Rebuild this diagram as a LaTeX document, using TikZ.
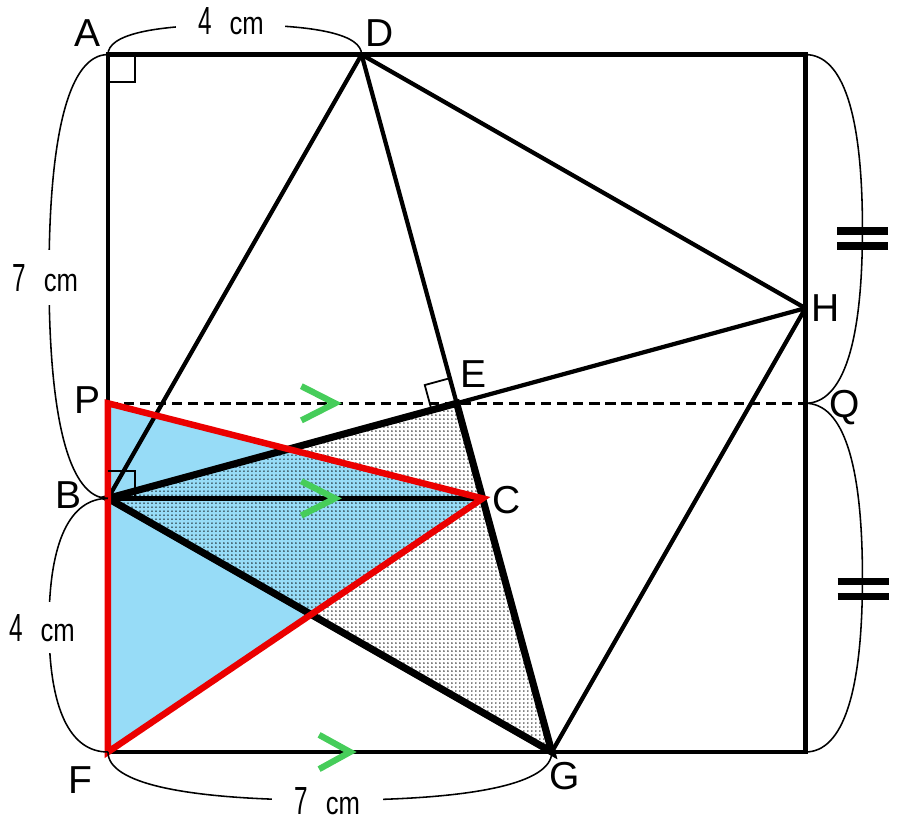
\documentclass[tikz,border=0pt]{standalone}
\usepackage{fontspec}
\setmainfont{Liberation Sans}
\usetikzlibrary{calc,patterns.meta}
\definecolor{skyfill}{RGB}{151,220,247}
\definecolor{redline}{RGB}{235,0,0}
\definecolor{greenmark}{RGB}{70,205,90}
\tikzset{
  frameline/.style={line width=1.9pt, line join=miter},
  dashline/.style={line width=1.6pt, dash pattern=on 4.6pt off 2.6pt},
  thickline/.style={line width=3.2pt, line join=miter},
  redtri/.style={draw=redline, line width=2.9pt, line join=miter},
  bracecurve/.style={line width=0.7pt},
  rightmark/.style={line width=0.8pt},
  chevron/.style={draw=greenmark, line width=2.8pt, line join=miter},
  eqbar/.style={line width=3.4pt},
  ptlabel/.style={font=\fontsize{17.5}{18}\selectfont, inner sep=0pt},
  measlabel/.style={fill=white, inner sep=0pt},
}
\newcommand{\measure}[1]{\scalebox{0.62}[1]{\fontsize{17.6}{18}\selectfont #1}\hspace{8pt}\scalebox{0.8}[1]{\fontsize{14.4}{15}\selectfont cm}}
\begin{document}
\begin{tikzpicture}
\useasboundingbox (-1.703,-1.183) rectangle (12.524,11.861);
% points
\coordinate (F) at (0,0);
\coordinate (G) at (7,0);
\coordinate (R) at (11,0);
\coordinate (T) at (11,11);
\coordinate (A) at (0,11);
\coordinate (D) at (4,11);
\coordinate (B) at (0,4);
\coordinate (P) at (0,5.5);
\coordinate (Q) at (11,5.5);
\coordinate (E) at (5.5,5.5);
\coordinate (H) at (11,7);
\coordinate (C) at (5.90909,4);
% fills
\fill[skyfill] (P) -- (F) -- (C) -- cycle;
\fill[pattern={Dots[distance=1.795pt,radius=0.34pt]}] (B) -- (E) -- (G) -- cycle;
% dashed
\draw[dashline] (P) -- (Q);
% lines
\draw[frameline] (A) -- (T) -- (R) -- (F) -- cycle;
\draw[frameline] (D) -- (B);
\draw[frameline] (D) -- (E);
\draw[frameline] (D) -- (H);
\draw[frameline] (E) -- (H);
\draw[frameline] (H) -- (G);
\draw[frameline] (B) -- (C);
\draw[thickline] (B) -- (E) -- (G) -- cycle;
\draw[redtri] (P) -- (F) -- (C) -- cycle;
% right angle marks
\draw[rightmark] ($(A)+(0.43,0)$) -- ($(A)+(0.43,-0.43)$) -- ($(A)+(0,-0.43)$);
\draw[rightmark] ($(B)+(0,0.43)$) -- ($(B)+(0.43,0.43)$) -- ($(B)+(0.43,0)$);
\coordinate (ed) at ($(E)!0.41cm!(D)$);
\coordinate (eb) at ($(E)!0.41cm!(B)$);
\draw[rightmark] (ed) -- ($(ed)+(eb)-(E)$) -- (eb);
% braces
\draw[bracecurve] (A) .. controls (0,11.31) and (0.68,11.47) .. (2,11.47)
  .. controls (3.32,11.47) and (4,11.31) .. (D);
\draw[bracecurve] (A) .. controls (-0.6,11) and (-0.93,9.8) .. (-0.93,7.5)
  .. controls (-0.93,5.2) and (-0.6,4) .. (B);
\draw[bracecurve] (B) .. controls (-0.6,4) and (-0.93,3.32) .. (-0.93,2)
  .. controls (-0.93,0.68) and (-0.6,0) .. (F);
\draw[bracecurve] (F) .. controls (0,-0.49) and (1.19,-0.76) .. (3.5,-0.76)
  .. controls (5.81,-0.76) and (7,-0.49) .. (G);
\draw[bracecurve] (T) .. controls (11.59,11) and (11.9,10.07) .. (11.9,8.25)
  .. controls (11.9,6.43) and (11.59,5.5) .. (Q);
\draw[bracecurve] (Q) .. controls (11.59,5.5) and (11.9,4.57) .. (11.9,2.75)
  .. controls (11.9,0.93) and (11.59,0) .. (R);
% equal marks
\draw[eqbar] (11.5,8.22) -- (12.3,8.22);
\draw[eqbar] (11.5,7.98) -- (12.3,7.98);
\draw[eqbar] (11.51,2.69) -- (12.32,2.69);
\draw[eqbar] (11.51,2.45) -- (12.32,2.45);
% measurement labels
\node[measlabel, minimum width=1.72cm, minimum height=0.55cm] (mAD) at (1.94,11.52) {\measure{4}};
\node[measlabel, minimum width=1.2cm, minimum height=0.87cm] (mAB) at (-0.99,7.48) {\measure{7}};
\node[measlabel, minimum width=1.2cm, minimum height=0.8cm] (mBF) at (-1.04,1.96) {\measure{4}};
\node[measlabel, minimum width=1.74cm, minimum height=0.55cm] (mFG) at (3.46,-0.77) {\measure{7}};
% chevrons
\draw[chevron] (3.05,5.77) -- (3.58,5.5) -- (3.05,5.23);
\draw[chevron] (3.05,4.27) -- (3.58,4) -- (3.05,3.73);
\draw[chevron] (3.33,0.27) -- (3.82,0) -- (3.33,-0.27);
% point labels
\node[ptlabel] (lA) at (-0.315,11.34) {A};
\node[ptlabel] (lD) at (4.29,11.34) {D};
\node[ptlabel] (lH) at (11.32,7.0) {H};
\node[ptlabel] (lQ) at (11.62,5.44) {Q};
\node[ptlabel] (lE) at (5.77,5.96) {E};
\node[ptlabel] (lP) at (-0.315,5.55) {P};
\node[ptlabel] (lB) at (-0.63,4.05) {B};
\node[ptlabel] (lC) at (6.29,3.97) {C};
\node[ptlabel] (lF) at (-0.44,-0.44) {F};
\node[ptlabel] (lG) at (7.2,-0.38) {G};
\end{tikzpicture}
\end{document}
